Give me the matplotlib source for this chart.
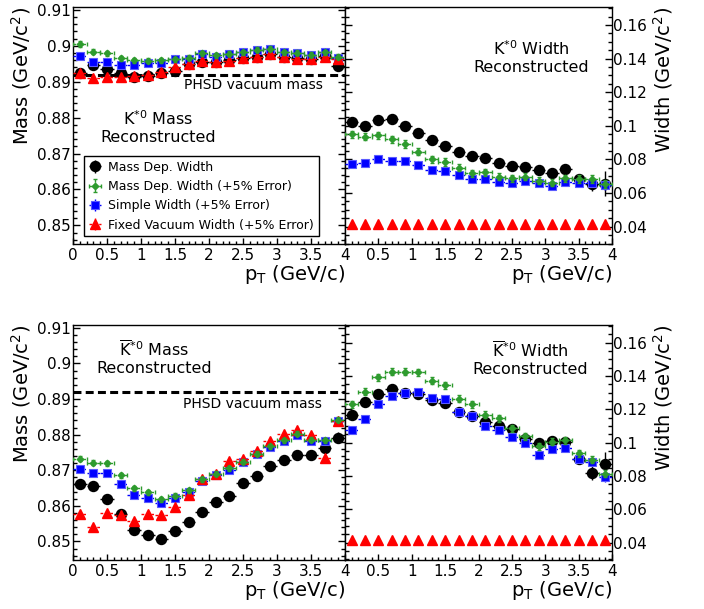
import matplotlib.pyplot as plt
from matplotlib.ticker import MultipleLocator, FuncFormatter

# pT bin centres (GeV/c), bins are 0.2 wide
pt = [0.1, 0.3, 0.5, 0.7, 0.9, 1.1, 1.3, 1.5, 1.7, 1.9,
      2.1, 2.3, 2.5, 2.7, 2.9, 3.1, 3.3, 3.5, 3.7, 3.9]
pt_err = 0.1

# K*0 reconstructed mass (GeV/c^2)
k_mass_mdw = [0.8924, 0.8947, 0.8935, 0.8925, 0.8914, 0.8915, 0.8925, 0.8931, 0.8948, 0.8956,
              0.8955, 0.8960, 0.8967, 0.8970, 0.8977, 0.8970, 0.8966, 0.8964, 0.8972, 0.8945]
k_mass_mdw5 = [0.9005, 0.8984, 0.8979, 0.8965, 0.8960, 0.8958, 0.8960, 0.8963, 0.8967, 0.8979,
               0.8973, 0.8978, 0.8982, 0.8989, 0.8992, 0.8982, 0.8980, 0.8975, 0.8982, 0.8969]
k_mass_simple = [0.8972, 0.8955, 0.8955, 0.8947, 0.8947, 0.8951, 0.8953, 0.8962, 0.8964, 0.8977,
                 0.8970, 0.8976, 0.8982, 0.8987, 0.8990, 0.8982, 0.8980, 0.8973, 0.8982, 0.8967]
k_mass_fixed = [0.8923, 0.8909, 0.8912, 0.8914, 0.8915, 0.8919, 0.8928, 0.8940, 0.8949, 0.8958,
                0.8954, 0.8959, 0.8967, 0.8969, 0.8976, 0.8969, 0.8964, 0.8962, 0.8970, 0.8964]

# K*0 reconstructed width (GeV/c^2)
k_width_mdw = [0.1025, 0.1001, 0.1035, 0.1039, 0.0999, 0.0959, 0.0916, 0.0882, 0.0844, 0.0822,
               0.0809, 0.0777, 0.0763, 0.0757, 0.0737, 0.0721, 0.0741, 0.0684, 0.0654, 0.0656]
k_width_mdw5 = [0.0949, 0.0936, 0.0945, 0.0920, 0.0892, 0.0846, 0.0801, 0.0785, 0.0751, 0.0717,
                0.0723, 0.0698, 0.0688, 0.0698, 0.0674, 0.0662, 0.0688, 0.0684, 0.0684, 0.0654]
k_width_simple = [0.0773, 0.0777, 0.0801, 0.0791, 0.0791, 0.0767, 0.0737, 0.0731, 0.0707, 0.0684,
                  0.0684, 0.0668, 0.0662, 0.0674, 0.0662, 0.0642, 0.0668, 0.0662, 0.0662, 0.0648]
k_width_fixed = [0.0416, 0.0416, 0.0416, 0.0416, 0.0416, 0.0416, 0.0416, 0.0416, 0.0416, 0.0416,
                 0.0416, 0.0416, 0.0416, 0.0416, 0.0416, 0.0416, 0.0416, 0.0416, 0.0416, 0.0416]

# anti-K*0 reconstructed mass (GeV/c^2)
kbar_mass_mdw = [0.8662, 0.8657, 0.8619, 0.8577, 0.8532, 0.8519, 0.8507, 0.8529, 0.8556, 0.8582,
                 0.8611, 0.8628, 0.8665, 0.8685, 0.8711, 0.8728, 0.8742, 0.8742, 0.8763, 0.8791]
kbar_mass_mdw5 = [0.8732, 0.8721, 0.8719, 0.8686, 0.8649, 0.8638, 0.8619, 0.8629, 0.8644, 0.8675,
                  0.8690, 0.8705, 0.8724, 0.8747, 0.8767, 0.8784, 0.8803, 0.8785, 0.8784, 0.8842]
kbar_mass_simple = [0.8703, 0.8691, 0.8691, 0.8662, 0.8631, 0.8621, 0.8607, 0.8621, 0.8640, 0.8669,
                    0.8688, 0.8702, 0.8722, 0.8745, 0.8765, 0.8782, 0.8800, 0.8783, 0.8783, 0.8839]
kbar_mass_fixed = [0.8577, 0.8540, 0.8580, 0.8575, 0.8558, 0.8577, 0.8575, 0.8596, 0.8631, 0.8675,
                   0.8690, 0.8726, 0.8731, 0.8754, 0.8783, 0.8803, 0.8812, 0.8800, 0.8734, 0.8839]

# anti-K*0 reconstructed width (GeV/c^2)
kbar_width_mdw = [0.1167, 0.1245, 0.1291, 0.1320, 0.1299, 0.1295, 0.1255, 0.1236, 0.1187, 0.1161,
                  0.1127, 0.1102, 0.1083, 0.1024, 0.1000, 0.1010, 0.1004, 0.0902, 0.0819, 0.0872]
kbar_width_mdw5 = [0.1232, 0.1305, 0.1393, 0.1426, 0.1426, 0.1422, 0.1373, 0.1344, 0.1265, 0.1230,
                   0.1167, 0.1147, 0.1088, 0.1039, 0.0980, 0.1006, 0.1015, 0.0937, 0.0898, 0.0813]
kbar_width_simple = [0.1074, 0.1142, 0.1232, 0.1279, 0.1299, 0.1305, 0.1271, 0.1260, 0.1187, 0.1161,
                     0.1098, 0.1078, 0.1035, 0.1000, 0.0925, 0.0960, 0.0970, 0.0902, 0.0886, 0.0793]
kbar_width_fixed = [0.0416, 0.0416, 0.0416, 0.0416, 0.0416, 0.0416, 0.0416, 0.0416, 0.0416, 0.0416,
                    0.0416, 0.0416, 0.0416, 0.0416, 0.0416, 0.0416, 0.0416, 0.0416, 0.0416, 0.0416]

# statistical errors
mass_err_mdw = [0.0004, 0.0004, 0.0004, 0.0004, 0.0004, 0.0004, 0.0004, 0.0004, 0.0004, 0.0004,
                0.0004, 0.0004, 0.0004, 0.0004, 0.0005, 0.0005, 0.0006, 0.0007, 0.0012, 0.0015]
mass_err_mdw5 = 0.0007
mass_err_simple = 0.0005
mass_err_fixed = 0.0004
width_err_mdw = [0.0012, 0.0012, 0.0012, 0.0012, 0.0012, 0.0012, 0.0012, 0.0012, 0.0012, 0.0012,
                 0.0012, 0.0012, 0.0013, 0.0013, 0.0014, 0.0015, 0.0016, 0.0030, 0.0040, 0.0075]
width_err_mdw5 = 0.0021
width_err_simple = [0.0012, 0.0012, 0.0012, 0.0012, 0.0012, 0.0012, 0.0012, 0.0012, 0.0012, 0.0012,
                    0.0012, 0.0012, 0.0013, 0.0013, 0.0015, 0.0016, 0.0017, 0.0020, 0.0022, 0.0030]

PHSD_MASS = 0.892

c_black = 'black'
c_green = '#2e9b2e'
c_blue = '#0000ff'
c_red = '#ff0000'

MASS_LIM = (0.8448, 0.9108)
WIDTH_LIM = (0.0297, 0.1707)

fig = plt.figure(figsize=(7.04, 6.09), dpi=100)
ax_tl = fig.add_axes([0.1037, 0.5993, 0.3864, 0.3892])
ax_tr = fig.add_axes([0.4901, 0.5993, 0.3793, 0.3892])
ax_bl = fig.add_axes([0.1037, 0.0805, 0.3864, 0.3859])
ax_br = fig.add_axes([0.4901, 0.0805, 0.3793, 0.3859])


def fmt_g(v, pos):
    return '%g' % round(v, 6)


def fmt_x_right(v, pos):
    if abs(v) < 1e-9:
        return ''
    return '%g' % round(v, 6)


def style(ax, kind, side):
    ax.set_xlim(0, 4)
    ax.xaxis.set_major_locator(MultipleLocator(0.5))
    ax.xaxis.set_minor_locator(MultipleLocator(0.1))
    if kind == 'mass':
        ax.set_ylim(*MASS_LIM)
        ax.yaxis.set_major_locator(MultipleLocator(0.01))
        ax.yaxis.set_minor_locator(MultipleLocator(0.002))
    else:
        ax.set_ylim(*WIDTH_LIM)
        ax.yaxis.set_major_locator(MultipleLocator(0.02))
        ax.yaxis.set_minor_locator(MultipleLocator(0.005))
    ax.yaxis.set_major_formatter(FuncFormatter(fmt_g))
    ax.xaxis.set_major_formatter(FuncFormatter(fmt_g if side == 'left' else fmt_x_right))
    ax.tick_params(which='both', direction='in', top=False, bottom=True,
                   left=True, right=True, labelsize=11, width=1)
    ax.tick_params(axis='y', which='major', length=5)
    ax.tick_params(axis='y', which='minor', length=2.6)
    ax.tick_params(axis='x', which='major', length=4.5, pad=3)
    ax.tick_params(axis='x', which='minor', length=2.4)
    if side == 'left':
        ax.tick_params(axis='y', labelleft=True, labelright=False, pad=1.5)
        ax.set_ylabel('Mass (GeV/c$^{2}$)', fontsize=14, loc='top')
        ax.yaxis.set_label_coords(-0.147, 1.0)
    else:
        ax.tick_params(axis='y', labelleft=False, labelright=True, pad=0.8)
        ax.yaxis.set_label_position('right')
        ax.set_ylabel('Width (GeV/c$^{2}$)', fontsize=14, loc='top')
        # left edge of the rotated label just right of the tick labels, top flush with the frame
        ax.yaxis.label.set_rotation_mode('default')
        ax.yaxis.label.set_horizontalalignment('left')
        ax.yaxis.label.set_verticalalignment('top')
        ax.yaxis.set_label_coords(1.148, 1.0)
    ax.set_xlabel(r'p$_{\mathrm{T}}$ (GeV/c)', fontsize=14, loc='right')
    ax.xaxis.set_label_coords(1.0, -0.08)
    for sp in ax.spines.values():
        sp.set_linewidth(1.0)


def draw_series(ax, y_black, e_black, y_green, e_green, y_blue, e_blue, y_red, e_red, red_bars):
    h_black = ax.errorbar(pt, y_black, xerr=pt_err, yerr=e_black, fmt='o', color=c_black,
                          ms=7.2, elinewidth=1, capsize=0, zorder=3)
    h_blue = ax.errorbar(pt, y_blue, xerr=pt_err, yerr=e_blue, fmt='s', color=c_blue,
                         mec='#5a5aff', mew=0.8, ms=6.3, elinewidth=1, capsize=0, zorder=4)
    h_blue.lines[2][0].set_linestyle((0, (2, 1.5)))
    if red_bars:
        h_red = ax.errorbar(pt, y_red, xerr=pt_err, yerr=e_red, fmt='^', color=c_red,
                            ms=6.8, elinewidth=1, capsize=0, zorder=5)
        h_red.lines[2][0].set_linestyle((0, (2, 1.5)))
    else:
        h_red = ax.errorbar(pt, y_red, fmt='^', color=c_red, ms=6.8, zorder=5)
    h_green = ax.errorbar(pt, y_green, xerr=pt_err, yerr=e_green, fmt='D', color=c_green,
                          ms=3.3, elinewidth=1, capsize=1.5, zorder=6)
    h_green.lines[2][0].set_linestyle((0, (2, 1.5)))
    return h_black, h_green, h_blue, h_red


# top row: K*0
handles = draw_series(ax_tl, k_mass_mdw, mass_err_mdw, k_mass_mdw5, mass_err_mdw5,
                      k_mass_simple, mass_err_simple, k_mass_fixed, mass_err_fixed, True)
draw_series(ax_tr, k_width_mdw, width_err_mdw, k_width_mdw5, width_err_mdw5,
            k_width_simple, width_err_simple, k_width_fixed, None, False)

# bottom row: anti-K*0
draw_series(ax_bl, kbar_mass_mdw, mass_err_mdw, kbar_mass_mdw5, mass_err_mdw5,
            kbar_mass_simple, mass_err_simple, kbar_mass_fixed, mass_err_fixed, True)
draw_series(ax_br, kbar_width_mdw, width_err_mdw, kbar_width_mdw5, width_err_mdw5,
            kbar_width_simple, width_err_simple, kbar_width_fixed, None, False)

for ax in (ax_tl, ax_bl):
    ax.axhline(PHSD_MASS, color='black', lw=2.2, ls=(0, (2.6, 1.4)), zorder=2)

style(ax_tl, 'mass', 'left')
style(ax_tr, 'width', 'right')
style(ax_bl, 'mass', 'left')
style(ax_br, 'width', 'right')

ax_tl.text(0.919, 0.671, 'PHSD vacuum mass', transform=ax_tl.transAxes,
           ha='right', va='center', fontsize=10)
ax_bl.text(0.915, 0.664, 'PHSD vacuum mass', transform=ax_bl.transAxes,
           ha='right', va='center', fontsize=10)

ax_tl.text(0.312, 0.492, 'K$^{*0}$ Mass\nReconstructed', transform=ax_tl.transAxes,
           ha='center', va='center', multialignment='center', fontsize=11.5, linespacing=1.15)
ax_tr.text(0.697, 0.787, 'K$^{*0}$ Width\nReconstructed', transform=ax_tr.transAxes,
           ha='center', va='center', multialignment='center', fontsize=11.5, linespacing=1.15)
ax_bl.text(0.298, 0.860, '$\\overline{\\mathrm{K}}^{*0}$ Mass\nReconstructed',
           transform=ax_bl.transAxes, ha='center', va='center', multialignment='center',
           fontsize=11.5, linespacing=1.15)
ax_br.text(0.693, 0.855, '$\\overline{\\mathrm{K}}^{*0}$ Width\nReconstructed',
           transform=ax_br.transAxes, ha='center', va='center', multialignment='center',
           fontsize=11.5, linespacing=1.15)

labels = ['Mass Dep. Width', 'Mass Dep. Width (+5% Error)',
          'Simple Width (+5% Error)', 'Fixed Vacuum Width (+5% Error)']
leg = ax_tl.legend(handles, labels, loc='lower left', mode='expand',
                   bbox_to_anchor=(0.0404, 0.034, 0.864, 0.34), borderaxespad=0,
                   fontsize=9, frameon=True, fancybox=False, framealpha=1,
                   edgecolor='black', handlelength=1.1, handletextpad=0.5,
                   borderpad=0.35, labelspacing=0.5)
leg.get_frame().set_linewidth(1.0)
leg.set_zorder(10)

fig.savefig('out.png', dpi=100)
